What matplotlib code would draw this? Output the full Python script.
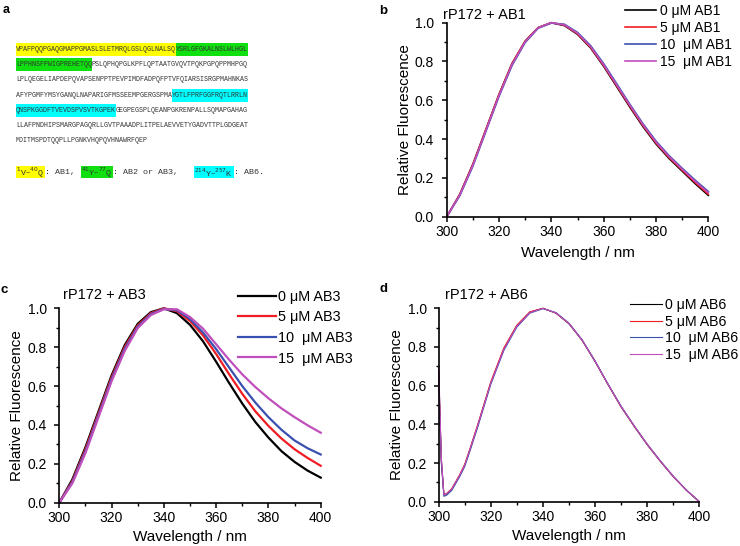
import matplotlib
matplotlib.use('Agg')
import matplotlib.pyplot as plt
from matplotlib.patches import Rectangle
from matplotlib.ticker import MultipleLocator

plt.rcParams['font.family'] = ['Liberation Sans', 'DejaVu Sans']

W, H = 740, 546

# ---- panel a: sequence (text, highlight) segments per line
seq_lines = [
    [('VPAFPQQPGAQGMAPPGMASLSLETMRQLGSLQGLNALSQ', 'yellow'), ('YSRLGFGKALNSLWLHGL', 'green')],
    [('LPPHNSFPWIGPREHETQQ', 'green'), ('PSLQPHQPGLKPFLQPTAATGVQVTPQKPGPQPPMHPGQ', None)],
    [('LPLQEGELIAPDEPQVAPSENPPTPEVPIMDFADPQFPTVFQIARSISRGPMAHNKAS', None)],
    [('AFYPGMFYMSYGANQLNAPARIGFMSSEEMPGERGSPMA', None), ('YGTLFPRFGGFRQTLRRLN', 'cyan')],
    [('QNSPKGGDFTVEVDSPVSVTKGPEK', 'cyan'), ('GEGPEGSPLQEANPGKRENPALLSQMAPGAHAG', None)],
    [('LLAFPNDHIPSMARGPAGQRLLGVTPAAADPLITPELAEVVETYGADVTTPLGDGEAT', None)],
    [('MDITMSPDTQQPLLPGNKVHQPQVHNAWRFQEP', None)],
]
key_segments = [
    ('$^{1}$V\u2013$^{40}$Q', 'yellow'),
    (': AB1, ', None),
    ('$^{41}$Y\u2013$^{77}$Q', 'green'),
    (': AB2 or AB3,   ', None),
    ('$^{214}$Y\u2013$^{257}$K', 'cyan'),
    (': AB6.', None),
]
hl_colors = {'yellow': '#ffff00', 'green': '#10e010', 'cyan': '#00ffff'}

# ---- spectra
wl = [300, 305, 310, 315, 320, 325, 330, 335, 340, 345, 350,
      355, 360, 365, 370, 375, 380, 385, 390, 395, 400]

b_0 = [0.00, 0.115, 0.27, 0.45, 0.63, 0.79, 0.905, 0.975, 1.00, 0.985, 0.94,
       0.87, 0.775, 0.67, 0.565, 0.465, 0.375, 0.30, 0.235, 0.17, 0.11]
b_5 = [0.00, 0.115, 0.27, 0.45, 0.63, 0.79, 0.905, 0.975, 1.00, 0.987, 0.943,
       0.873, 0.779, 0.675, 0.57, 0.47, 0.38, 0.305, 0.24, 0.176, 0.116]
b_10 = [0.00, 0.108, 0.26, 0.44, 0.62, 0.78, 0.898, 0.972, 0.998, 0.992, 0.95,
        0.882, 0.789, 0.685, 0.58, 0.48, 0.39, 0.315, 0.25, 0.188, 0.13]
b_15 = [0.00, 0.112, 0.265, 0.445, 0.625, 0.785, 0.902, 0.974, 1.00, 0.989, 0.946,
        0.877, 0.783, 0.679, 0.575, 0.475, 0.385, 0.31, 0.245, 0.182, 0.124]

c_0 = [0.00, 0.12, 0.285, 0.47, 0.655, 0.81, 0.92, 0.98, 1.00, 0.975, 0.915,
       0.83, 0.725, 0.615, 0.51, 0.415, 0.335, 0.265, 0.21, 0.165, 0.129]
c_5 = [0.00, 0.112, 0.275, 0.46, 0.645, 0.80, 0.912, 0.975, 1.00, 0.985, 0.935,
       0.86, 0.765, 0.66, 0.56, 0.47, 0.395, 0.33, 0.275, 0.23, 0.19]
c_10 = [0.00, 0.106, 0.265, 0.45, 0.635, 0.79, 0.905, 0.97, 0.997, 0.99, 0.945,
        0.875, 0.79, 0.695, 0.60, 0.515, 0.44, 0.375, 0.32, 0.28, 0.248]
c_15 = [0.00, 0.10, 0.255, 0.44, 0.625, 0.78, 0.898, 0.965, 0.995, 0.995, 0.955,
        0.895, 0.815, 0.735, 0.66, 0.595, 0.537, 0.485, 0.44, 0.398, 0.36]

wl_d = [300, 301, 302, 303, 305, 308, 310, 312, 315, 320, 325, 330, 335, 340,
        345, 350, 355, 360, 365, 370, 375, 380, 385, 390, 395, 400]
d_0 = [0.68, 0.22, 0.035, 0.04, 0.065, 0.135, 0.19, 0.27, 0.395, 0.615, 0.79, 0.91, 0.98, 1.00,
       0.975, 0.92, 0.835, 0.725, 0.605, 0.49, 0.39, 0.295, 0.21, 0.13, 0.06, 0.00]
d_5 = [0.66, 0.21, 0.037, 0.042, 0.067, 0.138, 0.194, 0.274, 0.40, 0.62, 0.795, 0.913, 0.982, 1.00,
       0.975, 0.921, 0.836, 0.726, 0.606, 0.491, 0.391, 0.296, 0.21, 0.13, 0.06, 0.00]
d_10 = [0.64, 0.20, 0.028, 0.033, 0.058, 0.128, 0.182, 0.262, 0.387, 0.607, 0.782, 0.903, 0.975, 0.998,
        0.978, 0.923, 0.838, 0.728, 0.608, 0.494, 0.393, 0.298, 0.212, 0.132, 0.061, 0.00]
d_15 = [0.70, 0.23, 0.036, 0.041, 0.065, 0.135, 0.19, 0.27, 0.395, 0.613, 0.788, 0.908, 0.978, 1.00,
        0.976, 0.921, 0.836, 0.726, 0.606, 0.492, 0.392, 0.297, 0.211, 0.131, 0.06, 0.00]

colors = ['black', '#f01c24', '#3a50ae', '#c04fbc']
concs = ['0', '5', '10 ', '15 ']

fig = plt.figure(figsize=(W / 100, H / 100), dpi=100)

# ---- panel a drawn in pixel coordinates
axa = fig.add_axes([0, 0, 1, 1], zorder=0)
axa.set_xlim(0, W)
axa.set_ylim(H, 0)
axa.axis('off')

cw = 4.0          # pixel width of one mono character
seq_fs = cw / 0.6 * 72 / 100
mono = ['Liberation Mono', 'DejaVu Sans Mono']
x0 = 16
for i, segs in enumerate(seq_lines):
    yc = 49.5 + 15.2 * i
    x = x0
    for s, hl in segs:
        if hl:
            axa.add_patch(Rectangle((x, yc - 6.5), len(s) * cw, 13,
                                    facecolor=hl_colors[hl], edgecolor='none'))
        axa.text(x, yc, s, family=mono, fontsize=seq_fs, color='#333333',
                 va='center', ha='left')
        x += len(s) * cw

# key line: lay segments out one after another using their drawn widths
renderer = fig.canvas.get_renderer()
x = 16
for s, hl in key_segments:
    t = axa.text(x + 0.5, 172.5, s, family=mono, fontsize=6, color='#333333',
                 va='center', ha='left')
    w = t.get_window_extent(renderer).width + 1
    if hl:
        axa.add_patch(Rectangle((x, 166), w, 12, facecolor=hl_colors[hl],
                                edgecolor='none', zorder=0))
    x += w

axa.text(6, 10, 'a', fontsize=9, fontweight='bold', va='center', ha='center')


def make_panel(box, xs, series, lw, letter, title, lx, ly, title_xy,
               leg_xy, leg_fs, hlen, hpad, lspace, ypad):
    left, top, right, bottom = box
    ax = fig.add_axes([left / W, 1 - bottom / H, (right - left) / W, (bottom - top) / H])
    for ys, col, cc in zip(series, colors, concs):
        ax.plot(xs, ys, color=col, lw=lw, clip_on=False,
                label=f'{cc} \u03bcM {title.split(" + ")[1]}')
    ax.set_xlim(300, 400)
    ax.set_ylim(0, 1.0)
    ax.spines['top'].set_visible(False)
    ax.spines['right'].set_visible(False)
    for sp in ('left', 'bottom'):
        ax.spines[sp].set_linewidth(1.2)
    ax.xaxis.set_major_locator(MultipleLocator(20))
    ax.xaxis.set_minor_locator(MultipleLocator(10))
    ax.yaxis.set_major_locator(MultipleLocator(0.2))
    ax.yaxis.set_minor_locator(MultipleLocator(0.1))
    ax.yaxis.set_major_formatter(plt.FormatStrFormatter('%.1f'))
    ax.tick_params(which='major', direction='out', length=3.6, width=1.1, labelsize=10)
    ax.tick_params(which='minor', direction='out', length=2.2, width=1.0)
    ax.tick_params(axis='x', which='major', pad=2.5)
    ax.tick_params(axis='y', which='major', pad=ypad)
    ax.set_xlabel('Wavelength / nm', fontsize=11)
    ax.set_ylabel('Relative Fluorescence', fontsize=11)
    ax.xaxis.label.set_va('center')
    ax.yaxis.label.set_va('center')
    ax.xaxis.set_label_coords(0.5, -lx / (bottom - top))
    ax.yaxis.set_label_coords(-ly / (right - left), 0.5)

    fig.text(letter[1] / W, 1 - letter[2] / H, letter[0], fontsize=9.5,
             fontweight='bold', va='center', ha='center')
    fig.text(title_xy[0] / W, 1 - title_xy[1] / H, title, fontsize=10.5,
             va='center', ha='left')
    ax.legend(loc='upper left', bbox_to_anchor=(leg_xy[0] / W, 1 - leg_xy[1] / H),
              bbox_transform=fig.transFigure, frameon=False, fontsize=leg_fs,
              handlelength=hlen, handletextpad=hpad, labelspacing=lspace,
              borderpad=0, borderaxespad=0)
    return ax


make_panel((446.7, 22.7, 708.3, 216.7), wl, [b_0, b_5, b_10, b_15], 1.2,
           ('b', 383, 11), 'rP172 + AB1', 36, 42, (443, 15),
           (625, 4), 10, 2.23, 0.29, 0.21, 5.5)
make_panel((59.3, 308.3, 320.7, 502.7), wl, [c_0, c_5, c_10, c_15], 1.6,
           ('c', 4, 290), 'rP172 + AB3', 34, 42.6, (63, 295),
           (238, 290), 10.4, 2.6, 0.2, 0.45, 5.4)
make_panel((438.7, 308.3, 699.3, 501.7), wl_d, [d_0, d_5, d_10, d_15], 0.8,
           ('d', 383, 289), 'rP172 + AB6', 34, 42, (445, 295),
           (630, 298), 10.2, 2.23, 0.23, 0.19, 5.0)

fig.savefig('out.png', dpi=100)
